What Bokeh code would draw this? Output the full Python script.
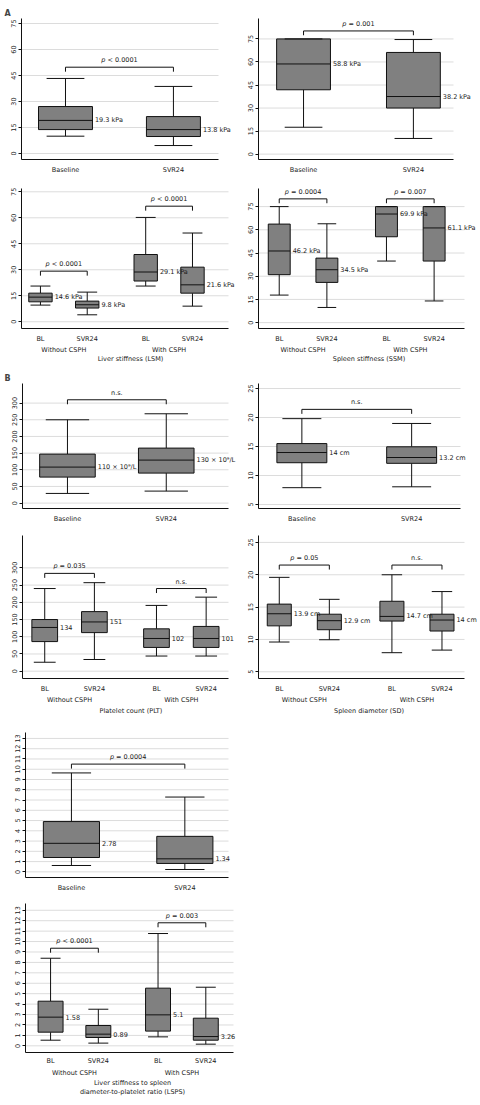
from bokeh.plotting import figure
from bokeh.models import Range1d, FixedTicker, LinearAxis
from bokeh.layouts import column, row
from bokeh.embed import file_html
from bokeh.resources import INLINE
from bokeh.core.properties import value

# ---------------- data ----------------
two_cats = ["Baseline", "SVR24"]
grp_cats = ["BL", "SVR24", "BL", "SVR24"]
grp_names = ["Without CSPH", "With CSPH"]

stiff_ticks = [0, 15, 30, 45, 60, 75]
plt_ticks = [0, 50, 100, 150, 200, 250, 300]
sd_ticks = [5, 10, 15, 20, 25]
lsps_ticks = list(range(0, 14))

# A: liver stiffness overall
lsm_lo = [10.0, 4.6]
lsm_q1 = [13.8, 9.8]
lsm_med = [19.1, 13.8]
lsm_q3 = [27.1, 21.3]
lsm_hi = [43.3, 38.7]
lsm_lab = ["19.3 kPa", "13.8 kPa"]
lsm_br = [49.8]
lsm_p = ["p < 0.0001"]

# A: spleen stiffness overall
ssm_lo = [17.5, 10.2]
ssm_q1 = [41.9, 30.0]
ssm_med = [58.7, 37.5]
ssm_q3 = [75.0, 66.2]
ssm_hi = [75.0, 74.6]
ssm_lab = ["58.8 kPa", "38.2 kPa"]
ssm_br = [80.2]
ssm_p = ["p = 0.001"]

# A: liver stiffness by CSPH
lsmg_lo = [9.6, 4.0, 20.6, 9.0]
lsmg_q1 = [11.5, 7.9, 23.5, 16.5]
lsmg_med = [14.2, 9.8, 28.7, 21.3]
lsmg_q3 = [16.5, 11.9, 38.8, 31.5]
lsmg_hi = [20.6, 17.1, 60.2, 51.2]
lsmg_lab = ["14.6 kPa", "9.8 kPa", "29.1 kPa", "21.6 kPa"]
lsmg_br = [29.2, 66.7]
lsmg_p = ["p < 0.0001", "p < 0.0001"]

# A: spleen stiffness by CSPH
ssmg_lo = [17.8, 9.8, 39.8, 14.0]
ssmg_q1 = [31.0, 26.0, 55.5, 39.8]
ssmg_med = [46.3, 34.2, 70.2, 61.2]
ssmg_q3 = [63.7, 41.7, 75.0, 75.0]
ssmg_hi = [75.0, 63.9, 75.0, 75.0]
ssmg_lab = ["46.2 kPa", "34.5 kPa", "69.9 kPa", "61.1 kPa"]
ssmg_br = [80.0, 80.0]
ssmg_p = ["p = 0.0004", "p = 0.007"]

# B: platelet count overall
plt_lo = [29, 36]
plt_q1 = [78, 90]
plt_med = [108, 129]
plt_q3 = [147, 165]
plt_hi = [250, 268]
plt_lab = ["110 \u00d7 10\u2079/L", "130 \u00d7 10\u2079/L"]
plt_br = [310]
plt_p = ["n.s."]

# B: spleen diameter overall
sd_lo = [7.9, 8.05]
sd_q1 = [12.2, 12.1]
sd_med = [13.96, 13.1]
sd_q3 = [15.5, 14.95]
sd_hi = [19.8, 18.97]
sd_lab = ["14 cm", "13.2 cm"]
sd_br = [21.4]
sd_p = ["n.s."]

# B: platelet count by CSPH
pltg_lo = [26, 34, 44, 44]
pltg_q1 = [86, 112, 69, 69]
pltg_med = [127, 143, 95, 95]
pltg_q3 = [150, 173, 123, 130]
pltg_hi = [240, 257, 191, 215]
pltg_lab = ["134", "151", "102", "101"]
pltg_br = [284, 240]
pltg_p = ["p = 0.035", "n.s."]

# B: spleen diameter by CSPH
sdg_lo = [9.6, 9.95, 7.95, 8.35]
sdg_q1 = [12.1, 11.5, 12.84, 11.3]
sdg_med = [13.97, 12.9, 13.56, 13.0]
sdg_q3 = [15.46, 13.9, 15.9, 13.9]
sdg_hi = [19.6, 16.2, 20.0, 17.4]
sdg_lab = ["13.9 cm", "12.9 cm", "14.7 cm", "14 cm"]
sdg_br = [21.5, 21.5]
sdg_p = ["p = 0.05", "n.s."]

# LSPS overall
lsps_lo = [0.62, 0.23]
lsps_q1 = [1.4, 0.82]
lsps_med = [2.78, 1.27]
lsps_q3 = [4.9, 3.46]
lsps_hi = [9.64, 7.29]
lsps_lab = ["2.78", "1.34"]
lsps_br = [10.5]
lsps_p = ["p = 0.0004"]

# LSPS by CSPH
lspsg_lo = [0.54, 0.26, 0.86, 0.16]
lspsg_q1 = [1.31, 0.8, 1.41, 0.54]
lspsg_med = [2.75, 1.12, 2.97, 0.89]
lspsg_q3 = [4.28, 1.95, 5.53, 2.65]
lspsg_hi = [8.4, 3.51, 10.77, 5.62]
lspsg_lab = ["1.58", "0.89", "5.1", "3.26"]
lspsg_br = [9.36, 11.8]
lspsg_p = ["p < 0.0001", "p = 0.003"]

# ---------------- styling ----------------
FONT = "DejaVu Sans"
FSN = 6.5
FS = "6.5px"
TXT = "#1a1a1a"
BOXC = "#808080"
GRIDC = "#dcdcdc"
LINEC = "#111111"
# approximate DejaVu Sans advance widths (em) for the p-value strings
CHAR_W = {" ": 0.318, "<": 0.838, "=": 0.838, ".": 0.318, "p": 0.635}


def text_w(s):
    return sum(CHAR_W.get(c, 0.636) for c in s) * FSN


def style_text_axis(ax):
    ax.major_label_text_font = FONT
    ax.major_label_text_font_size = FS
    ax.major_label_text_color = TXT
    ax.axis_label_text_font = FONT
    ax.axis_label_text_font_size = FS
    ax.axis_label_text_color = TXT
    ax.axis_label_text_font_style = "normal"
    ax.minor_tick_in = 0
    ax.minor_tick_out = 0
    ax.minor_tick_line_color = None


def make_panel(width, height, border, xr, yr, yticks, cats, lo, q1, med, q3, hi, labels,
               br_y, br_text, bw, capf, groups=None, xtitle=None, tag=None,
               xa_s=6, ga_s=0, title_s=0):
    l, r, t, b = border
    n = len(cats)
    xs = [4, 8] if n == 2 else [4, 8, 13, 17]
    # frame stretched to the right edge so value labels are not clipped;
    # grid lines and the x axis line stop at the visible plot end (xr[1])
    ppx = (width - l - r) / (xr[1] - xr[0])
    x_ext = xr[1] + (r - 1) / ppx
    p = figure(width=width, height=height, x_range=Range1d(xr[0], x_ext),
               y_range=Range1d(*yr), output_backend="svg", toolbar_location=None,
               min_border_left=l, min_border_right=1, min_border_top=t, min_border_bottom=b)
    p.outline_line_color = None
    p.background_fill_color = "white"
    p.border_fill_color = "white"

    if tag:
        p.title.text = tag
        p.title.align = "left"
        p.title.offset = -(l - 4)
        p.title.text_font = FONT
        p.title.text_font_size = "8px"
        p.title.text_font_style = "bold"
        p.title.standoff = 2

    # y axis
    ya = p.left[0]
    ya.ticker = FixedTicker(ticks=yticks)
    ya.major_label_orientation = "vertical"
    ya.major_tick_out = 3
    ya.major_tick_in = 0
    ya.major_label_standoff = 2
    ya.axis_line_color = LINEC
    ya.major_tick_line_color = LINEC
    style_text_axis(ya)
    p.ygrid.visible = False
    p.xgrid.visible = False
    p.segment(x0=[xr[0]] * len(yticks), x1=[xr[1]] * len(yticks), y0=yticks, y1=yticks,
              line_color=GRIDC, line_width=1, level="underlay")

    # x axis (categories)
    xa = p.below[0]
    xa.ticker = FixedTicker(ticks=xs)
    xa.major_label_overrides = {xs[i]: cats[i] for i in range(n)}
    xa.bounds = (xr[0], xr[1])
    xa.major_tick_out = 0
    xa.major_tick_in = 0
    xa.major_tick_line_color = None
    xa.major_label_standoff = xa_s
    xa.axis_line_color = LINEC
    style_text_axis(xa)

    if groups:
        gpos = [(xs[0] + xs[1]) // 2, (xs[2] + xs[3]) // 2]
        ga = LinearAxis(ticker=FixedTicker(ticks=gpos),
                        major_label_overrides={gpos[0]: groups[0], gpos[1]: groups[1]},
                        axis_line_color=None, major_tick_line_color=None,
                        major_tick_in=0, major_tick_out=0, major_label_standoff=ga_s,
                        axis_label=xtitle, axis_label_standoff=title_s)
        style_text_axis(ga)
        p.add_layout(ga, "below")

    px_per_unit = (height - t - b) / (yr[1] - yr[0])
    cw = bw * capf
    # whiskers
    p.segment(x0=xs, y0=q3, x1=xs, y1=hi, line_color=LINEC, line_width=1)
    p.segment(x0=xs, y0=q1, x1=xs, y1=lo, line_color=LINEC, line_width=1)
    # boxes
    p.vbar(x=xs, width=bw, bottom=q1, top=q3, fill_color=BOXC, line_color=LINEC, line_width=1)
    # medians
    p.segment(x0=[x - bw / 2 for x in xs], y0=med, x1=[x + bw / 2 for x in xs], y1=med,
              line_color=LINEC, line_width=1)
    # caps
    p.segment(x0=[x - cw / 2 for x in xs], y0=hi, x1=[x + cw / 2 for x in xs], y1=hi,
              line_color=LINEC, line_width=1)
    p.segment(x0=[x - cw / 2 for x in xs], y0=lo, x1=[x + cw / 2 for x in xs], y1=lo,
              line_color=LINEC, line_width=1)
    # value labels
    p.text(x=[x + bw / 2 for x in xs], y=med, text=labels, x_offset=2.5,
           text_align="left", text_baseline="middle", text_font=value(FONT),
           text_font_size=value(FS), text_color=TXT)
    # brackets
    drop = 4.5 / px_per_unit
    bxs, bys = [], []
    for k, h in enumerate(br_y):
        xa0, xa1 = xs[2 * k], xs[2 * k + 1]
        bxs.append([xa0, xa0, xa1, xa1])
        bys.append([h - drop, h, h, h - drop])
    p.multi_line(xs=bxs, ys=bys, line_color=LINEC, line_width=1)
    # bracket texts: an italic "p" followed by the rest, centred as one string
    for k, (h, s) in enumerate(zip(br_y, br_text)):
        cx = (xs[2 * k] + xs[2 * k + 1]) / 2
        if s.startswith("p "):
            tot = text_w(s)
            lead = text_w("p ")
            rest = s[2:]
            p.text(x=[cx], y=[h], text=["p"], x_offset=-tot / 2, y_offset=-3,
                   text_align="left", text_baseline="bottom", text_font=value(FONT),
                   text_font_style="italic", text_font_size=value(FS), text_color=TXT)
            p.text(x=[cx], y=[h], text=[rest], x_offset=-tot / 2 + lead, y_offset=-3,
                   text_align="left", text_baseline="bottom", text_font=value(FONT),
                   text_font_size=value(FS), text_color=TXT)
        else:
            p.text(x=[cx], y=[h], text=[s], y_offset=-3, text_align="center",
                   text_baseline="bottom", text_font=value(FONT),
                   text_font_size=value(FS), text_color=TXT)
    return p


A1 = make_panel(240, 178, (21, 22, 18, 19), (2.37, 9.67), (-3.46, 77.9), stiff_ticks,
                two_cats, lsm_lo, lsm_q1, lsm_med, lsm_q3, lsm_hi, lsm_lab, lsm_br, lsm_p,
                2.0, 0.7, tag="A")
A2 = make_panel(240, 178, (18, 27, 12, 19), (2.36, 9.46), (-3.5, 88.3), stiff_ticks,
                two_cats, ssm_lo, ssm_q1, ssm_med, ssm_q3, ssm_hi, ssm_lab, ssm_br, ssm_p,
                1.96, 0.7)
A3 = make_panel(240, 190, (21, 12, 10, 40), (2.38, 20.08), (-3.9, 76.9), stiff_ticks,
                grp_cats, lsmg_lo, lsmg_q1, lsmg_med, lsmg_q3, lsmg_hi, lsmg_lab, lsmg_br,
                lsmg_p, 2.0, 0.85, groups=grp_names, xtitle="Liver stiffness (LSM)",
                ga_s=0, title_s=-2)
A4 = make_panel(240, 190, (18, 16, 6, 40), (2.26, 19.55), (-3.8, 86.7), stiff_ticks,
                grp_cats, ssmg_lo, ssmg_q1, ssmg_med, ssmg_q3, ssmg_hi, ssmg_lab, ssmg_br,
                ssmg_p, 1.84, 0.85, groups=grp_names, xtitle="Spleen stiffness (SSM)",
                ga_s=0, title_s=-2)
B1 = make_panel(240, 157, (22, 12, 15, 17), (2.18, 10.52), (-16.2, 358.8), plt_ticks,
                two_cats, plt_lo, plt_q1, plt_med, plt_q3, plt_hi, plt_lab, plt_br, plt_p,
                2.25, 0.78, tag="B")
B2 = make_panel(240, 157, (18, 20, 15, 17), (2.42, 9.78), (4.31, 25.86), sd_ticks,
                two_cats, sd_lo, sd_q1, sd_med, sd_q3, sd_hi, sd_lab, sd_br, sd_p,
                1.82, 0.78)
B3 = make_panel(240, 193, (22, 12, 10, 40), (2.21, 18.8), (-21.2, 394.0), plt_ticks,
                grp_cats, pltg_lo, pltg_q1, pltg_med, pltg_q3, pltg_hi, pltg_lab, pltg_br,
                pltg_p, 2.07, 0.85, groups=grp_names, xtitle="Platelet count (PLT)",
                ga_s=0, title_s=0)
B4 = make_panel(240, 193, (18, 16, 10, 40), (2.34, 18.8), (3.96, 26.07), sd_ticks,
                grp_cats, sdg_lo, sdg_q1, sdg_med, sdg_q3, sdg_hi, sdg_lab, sdg_br,
                sdg_p, 1.92, 0.85, groups=grp_names, xtitle="Spleen diameter (SD)",
                ga_s=0, title_s=0)
C1 = make_panel(240, 177, (25, 12, 14, 18), (2.38, 9.54), (-0.55, 13.58), lsps_ticks,
                two_cats, lsps_lo, lsps_q1, lsps_med, lsps_q3, lsps_hi, lsps_lab, lsps_br,
                lsps_p, 1.98, 0.7)
C2 = make_panel(240, 209, (25, 7, 8, 52), (1.90, 19.32), (-0.64, 13.65), lsps_ticks,
                grp_cats, lspsg_lo, lspsg_q1, lspsg_med, lspsg_q3, lspsg_hi, lspsg_lab,
                lspsg_br, lspsg_p, 2.09, 0.8, groups=grp_names,
                xtitle="Liver stiffness to spleen\ndiameter-to-platelet ratio (LSPS)",
                xa_s=4, ga_s=1, title_s=-1)

layout = column(row(A1, A2), row(A3, A4), row(B1, B2), row(B3, B4), C1, C2)

open("out.html", "w").write(file_html(layout, INLINE))
